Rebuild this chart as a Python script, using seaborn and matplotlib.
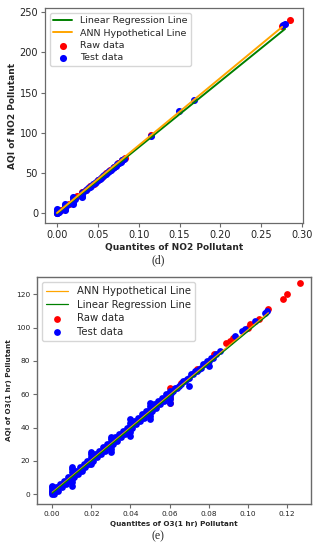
import matplotlib
matplotlib.use('Agg')
import matplotlib.pyplot as plt
import seaborn as sns

# ============================================================================
# DATA
# ============================================================================
# (d) NO2
no2_raw_x = [0.000, 0.005, 0.010, 0.015, 0.020, 0.025, 0.030, 0.035, 0.040, 0.045,
             0.050, 0.055, 0.060, 0.065, 0.070, 0.075, 0.080, 0.083, 0.115, 0.2755, 0.285]
no2_raw_y = [1, 4, 8, 12, 17, 21, 26, 29, 34, 37,
             42, 45, 50, 54, 58, 62, 66, 69, 97, 233, 240]

no2_test_x = [0.000, 0.000, 0.000, 0.000, 0.000, 0.002, 0.003,
              0.010, 0.010, 0.010, 0.010, 0.012,
              0.020, 0.020, 0.020, 0.020, 0.022,
              0.030, 0.030, 0.030, 0.032,
              0.036, 0.038, 0.040, 0.042, 0.044, 0.046, 0.048, 0.050, 0.052, 0.054,
              0.056, 0.058, 0.060, 0.062, 0.064, 0.066, 0.068, 0.070, 0.072, 0.074,
              0.076, 0.078, 0.080, 0.082,
              0.115, 0.149, 0.168, 0.277, 0.279]
no2_test_y = [0, 1, 2, 3, 5, 2, 3,
              4, 6, 9, 11, 10,
              12, 14, 17, 20, 18,
              20, 22, 25, 26,
              29, 31, 33, 34, 36, 38, 39, 41, 43, 44,
              46, 48, 49, 51, 52, 54, 56, 57, 59, 61,
              62, 64, 66, 67,
              96, 127, 141, 234, 235]

no2_lr_x = [0.0, 0.279]
no2_lr_y = [0.0, 229.0]
no2_ann_x = [0.0, 0.2755]
no2_ann_y = [0.5, 231.5]

# (e) O3 (1 hr)
o3_raw_x = [0.000, 0.010, 0.020, 0.030, 0.040, 0.050,
            0.060, 0.060, 0.060, 0.060,
            0.066, 0.074, 0.083, 0.0888, 0.091, 0.0925, 0.100, 0.101, 0.106, 0.1106,
            0.118, 0.120, 0.1268]
o3_raw_y = [1, 10, 20, 30, 40, 50,
            55, 58, 61, 64,
            67, 75, 84, 90.6, 92, 94, 100, 102, 105, 111,
            117, 120, 127]

o3_test_x = [0.000, 0.000, 0.000, 0.000, 0.000, 0.000,
             0.010, 0.010, 0.010, 0.010, 0.010, 0.010, 0.010,
             0.020, 0.020, 0.020, 0.020, 0.020,
             0.030, 0.030, 0.030, 0.030, 0.030, 0.030,
             0.040, 0.040, 0.040, 0.040, 0.040, 0.040,
             0.050, 0.050, 0.050, 0.050, 0.050, 0.050,
             0.060, 0.060, 0.060, 0.060, 0.060,
             0.001, 0.002, 0.003, 0.004, 0.005, 0.006, 0.007, 0.008, 0.009,
             0.011, 0.012, 0.013, 0.014, 0.015, 0.016, 0.017, 0.018, 0.019,
             0.021, 0.022, 0.023, 0.024, 0.025, 0.026, 0.027, 0.028, 0.029,
             0.031, 0.032, 0.033, 0.034, 0.035, 0.036, 0.037, 0.038, 0.039,
             0.041, 0.042, 0.043, 0.044, 0.045, 0.046, 0.047, 0.048, 0.049,
             0.051, 0.052, 0.053, 0.054, 0.055, 0.056, 0.057, 0.058, 0.059,
             0.061, 0.062, 0.063, 0.064, 0.065, 0.066, 0.067, 0.068, 0.069,
             0.070, 0.070, 0.071, 0.072, 0.073, 0.074, 0.075, 0.076, 0.077,
             0.078, 0.079, 0.080, 0.080, 0.081, 0.082, 0.084, 0.086,
             0.0935, 0.097, 0.0987, 0.104, 0.109, 0.110]
o3_test_y = [0, 1, 2, 3, 4, 5,
             5, 7, 9, 11, 13, 15, 16,
             18, 20, 22, 24, 25,
             25, 27, 29, 31, 33, 34,
             35, 37, 39, 41, 43, 45,
             45, 47, 49, 51, 53, 55,
             55, 57, 59, 61, 62,
             0, 4, 2, 6, 4, 8, 6, 10, 8,
             10, 14, 12, 16, 14, 18, 16, 20, 18,
             20, 24, 22, 26, 24, 28, 26, 30, 28,
             30, 34, 32, 36, 34, 38, 36, 40, 38,
             40, 44, 42, 46, 44, 48, 46, 50, 48,
             50, 54, 52, 56, 54, 58, 56, 60, 58,
             61, 62, 64, 64, 65, 66, 68, 68, 69,
             65, 70, 72, 72, 74, 74, 75, 76, 78,
             78, 80, 77, 80, 82, 82, 84, 86,
             95, 98, 99, 104, 109, 110]

o3_lr_x = [0.0, 0.1106]
o3_lr_y = [0.5, 108.0]
o3_ann_x = [0.0, 0.1106]
o3_ann_y = [1.0, 109.0]

no2_xticks = [0.00, 0.05, 0.10, 0.15, 0.20, 0.25, 0.30]
no2_yticks = [0, 50, 100, 150, 200, 250]
o3_xticks = [0.00, 0.02, 0.04, 0.06, 0.08, 0.10, 0.12]
o3_yticks = [0, 20, 40, 60, 80, 100, 120]

# ============================================================================
# STYLE
# ============================================================================
sns.set_theme(style='ticks')
plt.rcParams['font.family'] = ['DejaVu Sans']
plt.rcParams['axes.edgecolor'] = '#6a6a6a'
plt.rcParams['xtick.color'] = '#6a6a6a'
plt.rcParams['ytick.color'] = '#6a6a6a'
plt.rcParams['xtick.labelcolor'] = '#222222'
plt.rcParams['ytick.labelcolor'] = '#222222'

fig = plt.figure(figsize=(3.19, 5.50), dpi=100)


def lines_first_legend(ax, fontsize, handlelength):
    # matplotlib puts line handles before scatter handles
    handles, labels = ax.get_legend_handles_labels()
    order = [2, 3, 0, 1]
    leg = ax.legend([handles[i] for i in order], [labels[i] for i in order],
                    loc='upper left', fontsize=fontsize, frameon=True,
                    handlelength=handlelength, borderpad=0.4, labelspacing=0.35,
                    handletextpad=0.8)
    leg.get_frame().set_edgecolor('#cccccc')
    return leg


# ============================================================================
# (d) NO2
# ============================================================================
ax1 = fig.add_axes([45 / 319, (550 - 223) / 550, 258 / 319, 215 / 550])
sns.scatterplot(x=no2_raw_x, y=no2_raw_y, color='red', s=26, linewidth=0,
                label='Raw data', ax=ax1)
sns.scatterplot(x=no2_test_x, y=no2_test_y, color='blue', s=26, linewidth=0,
                label='Test data', ax=ax1)
sns.lineplot(x=no2_lr_x, y=no2_lr_y, color='green', linewidth=1.4,
             label='Linear Regression Line', ax=ax1)
sns.lineplot(x=no2_ann_x, y=no2_ann_y, color='orange', linewidth=1.4,
             label='ANN Hypothetical Line', ax=ax1)
ax1.set_xticks(no2_xticks)
ax1.set_yticks(no2_yticks)
ax1.set_xticklabels([f'{t:.2f}' for t in no2_xticks])
ax1.set_xlim(-0.0147, 0.301)
ax1.set_ylim(-12, 255)
ax1.tick_params(labelsize=7, length=3, width=0.8, pad=2)
ax1.set_xlabel('Quantites of NO2 Pollutant', fontsize=6.5, fontweight='bold', labelpad=2)
ax1.set_ylabel('AQI of NO2 Pollutant', fontsize=6.5, fontweight='bold', labelpad=2)
for sp in ax1.spines.values():
    sp.set_visible(True)
    sp.set_linewidth(0.9)
lines_first_legend(ax1, 6.8, 2.0)
fig.text(158 / 319, 1 - 260 / 550, '(d)', family='Liberation Serif', fontsize=8.5,
         ha='center', va='center')

# ============================================================================
# (e) O3 (1 hr)
# ============================================================================
ax2 = fig.add_axes([37 / 319, (550 - 504) / 550, 274 / 319, 227 / 550])
sns.scatterplot(x=o3_raw_x, y=o3_raw_y, color='red', s=24, linewidth=0,
                label='Raw data', ax=ax2)
sns.scatterplot(x=o3_test_x, y=o3_test_y, color='blue', s=24, linewidth=0,
                label='Test data', ax=ax2)
sns.lineplot(x=o3_ann_x, y=o3_ann_y, color='orange', linewidth=0.9,
             label='ANN Hypothetical Line', ax=ax2)
sns.lineplot(x=o3_lr_x, y=o3_lr_y, color='green', linewidth=0.9,
             label='Linear Regression Line', ax=ax2)
ax2.set_xticks(o3_xticks)
ax2.set_yticks(o3_yticks)
ax2.set_xticklabels([f'{t:.2f}' for t in o3_xticks])
ax2.set_xlim(-0.0078, 0.1324)
ax2.set_ylim(-6, 130.5)
ax2.tick_params(labelsize=5.3, length=3, width=0.8, pad=2)
ax2.set_xlabel('Quantites of O3(1 hr) Pollutant', fontsize=5.2, fontweight='bold', labelpad=3)
ax2.set_ylabel('AQI of O3(1 hr) Pollutant', fontsize=5.2, fontweight='bold', labelpad=3)
for sp in ax2.spines.values():
    sp.set_visible(True)
    sp.set_linewidth(1.0)
lines_first_legend(ax2, 7.3, 2.2)
fig.text(158 / 319, 1 - 536 / 550, '(e)', family='Liberation Serif', fontsize=8.5,
         ha='center', va='center')

fig.savefig('out.png', dpi=100)
